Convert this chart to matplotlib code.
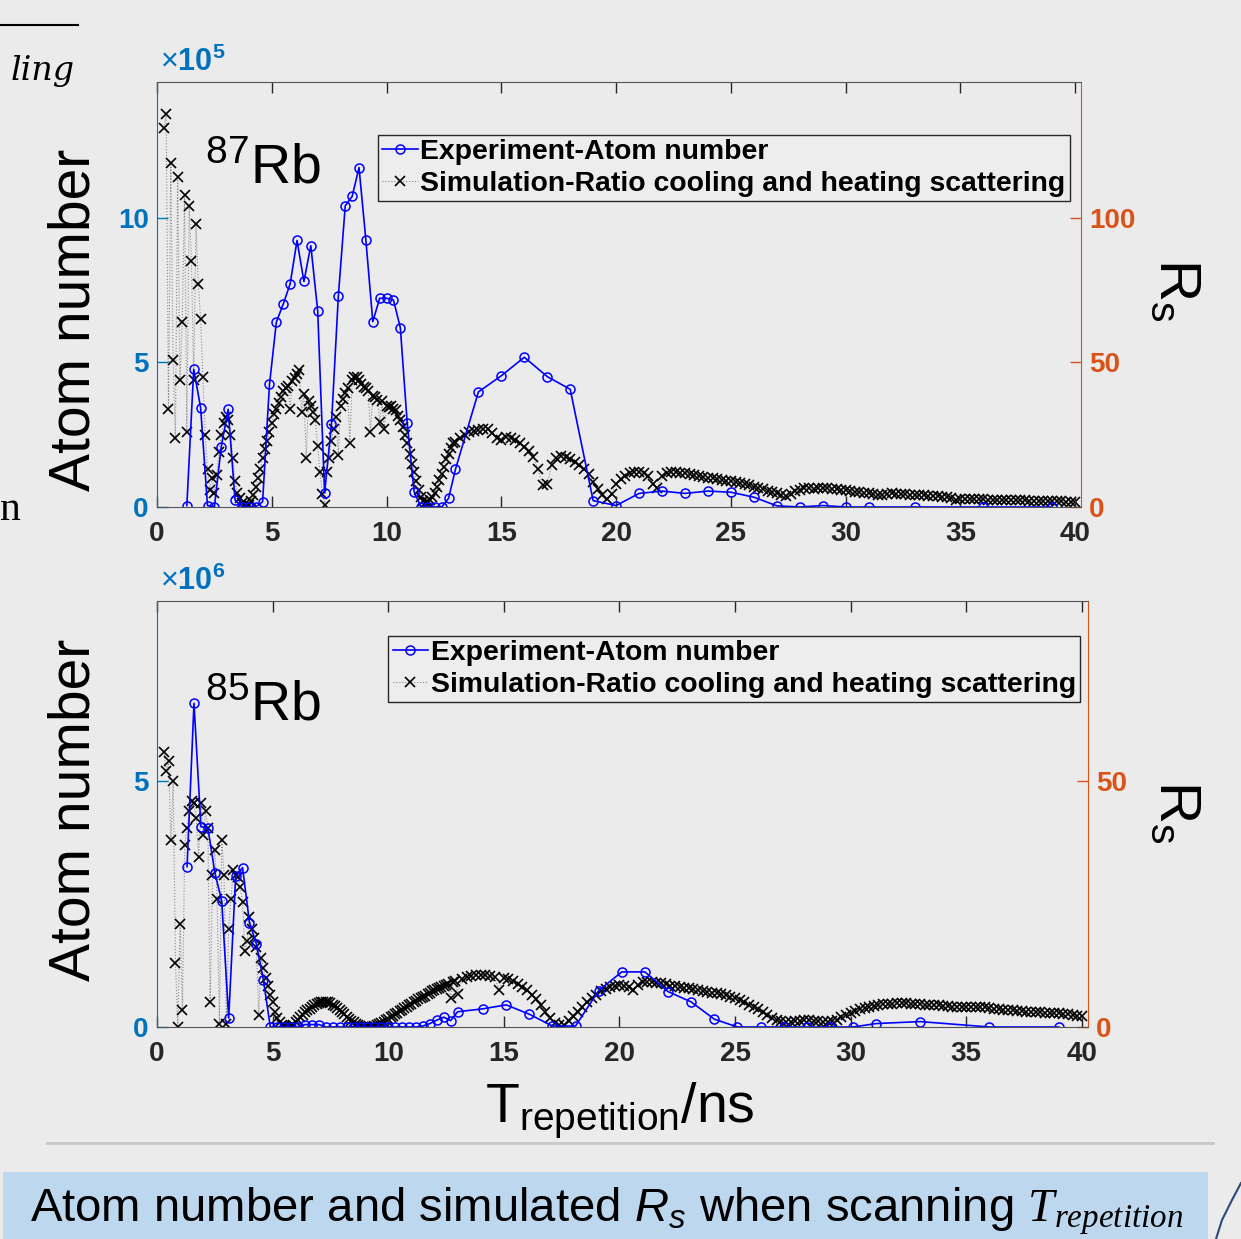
import numpy as np
import matplotlib
matplotlib.use("Agg")
import matplotlib.pyplot as plt
from matplotlib.patches import Rectangle
from matplotlib.lines import Line2D

plt.rcParams['font.family'] = ['Liberation Sans', 'DejaVu Sans']
plt.rcParams['mathtext.fontset'] = 'custom'
plt.rcParams['mathtext.rm'] = 'Liberation Sans'
plt.rcParams['mathtext.it'] = 'Liberation Sans:italic'
plt.rcParams['mathtext.bf'] = 'Liberation Sans:bold'
plt.rcParams['mathtext.cal'] = 'Liberation Serif:italic'

# ---- 87Rb (top panel) ----
# experiment: atom number in units of 1e5
exp87_t = [1.3, 1.6, 1.9, 2.2, 2.5, 2.8, 3.1, 3.4, 3.7, 4.0,
           4.3, 4.6, 4.9, 5.2, 5.5, 5.8, 6.1, 6.4, 6.7, 7.0,
           7.3, 7.6, 7.9, 8.2, 8.5, 8.8, 9.1, 9.4, 9.7, 10.0,
           10.3, 10.6, 10.9, 11.2, 11.5, 11.8, 12.1, 12.4, 12.7, 13.0,
           14, 15, 16, 17, 18, 19, 20, 21, 22, 23,
           24, 25, 26, 27, 28, 29, 30, 31, 33, 36, 39]
exp87_n = [0.05, 4.76, 3.44, 0.05, 0.0, 2.09, 3.38, 0.24, 0.01, 0.0,
           0.0, 0.18, 4.24, 6.4, 7.02, 7.72, 9.22, 7.8, 9.04, 6.79,
           0.49, 2.86, 7.3, 10.42, 10.74, 11.74, 9.22, 6.41, 7.22, 7.22,
           7.16, 6.2, 2.9, 0.53, 0.0, 0.0, 0.0, 0.0, 0.3, 1.3,
           3.98, 4.54, 5.18, 4.51, 4.07, 0.22, 0.05, 0.47, 0.55, 0.47,
           0.55, 0.51, 0.34, 0.04, 0.0, 0.05, 0.0, 0.0, 0.0, 0.0, 0.0]
# simulation Rs, 0.3-12.9 ns every 0.1 ns
sim87_a = [131, 136, 34, 119, 51, 24, 114, 44, 64, 108,
           26, 104, 85, 44, 98, 77, 65, 45, 25, 13,
           6, 10, 5, 11, 19, 25, 29, 31, 30, 25,
           17, 9, 5, 3, 1.5, 0.7, 0.4, 0.8, 2, 4,
           7, 10, 13, 17, 20, 23, 26, 29, 32, 34,
           36, 38, 40, 41, 42, 34, 43.5, 44.5, 46, 47.5,
           33, 39, 17, 36.5, 35, 33, 30, 21, 12, 4.5,
           0.8, 12, 17, 23, 27, 31, 18, 35, 37.5, 39.5,
           41, 22, 44, 45, 45, 44, 42.5, 41.5, 41, 40,
           26, 38.5, 38, 37, 29.5, 36.5, 27, 35, 34.5, 35,
           34, 33.5, 31.5, 30, 27.5, 25, 22, 18.5, 15, 12,
           9, 6, 3.5, 2, 1.8, 1.8, 2.5, 3.5, 5, 7,
           9.5, 11.5, 14, 16.5, 18.5, 20.5, 22]
# simulation Rs, 13-40 ns every 0.2 ns
sim87_b = [22.5, 24, 25, 25.8, 26.4, 26.7, 26.9, 27, 25.5, 24,
           23.3, 24.3, 24, 23.2, 22, 20.6, 19.3, 17.3, 13, 7.5,
           8, 14.5, 16.8, 17.6, 17.2, 16.5, 15.6, 14.4, 13, 11.3,
           8.7, 6.3, 4, 2.6, 4.4, 8, 9.8, 10.8, 11.6, 12.2,
           12.1, 11.7, 10.6, 8, 6.5, 10.6, 11.6, 12, 12, 11.8,
           11.6, 11.3, 11.1, 10.8, 10.5, 10.2, 9.9, 9.7, 9.4, 9.1,
           8.9, 8.7, 8.4, 8.1, 7.5, 7, 6.5, 6.1, 5.7, 5.3,
           4.8, 4.2, 3.8, 4.6, 5.4, 5.9, 6.4, 6.6, 6.3, 6.4,
           6.6, 6.5, 6.2, 6.1, 5.9, 5.8, 5.6, 5.3, 5.3, 5.0,
           4.7, 4.5, 4.2, 4.3, 4.6, 4.7, 4.6, 4.5, 4.4, 4.3,
           4.3, 4.2, 4.0, 3.9, 3.8, 3.7, 3.6, 3.5, 3.0, 2.5,
           2.6, 2.7, 2.7, 2.6, 2.6, 2.6, 2.5, 2.5, 2.5, 2.4,
           2.4, 2.4, 2.3, 2.3, 2.3, 2.2, 2.2, 2.2, 2.2, 2.1,
           2.1, 2.0, 2.0, 1.9, 1.9, 1.8]

# ---- 85Rb (bottom panel) ----
# experiment: atom number in units of 1e6
exp85_t = [1.3, 1.6, 1.9, 2.2, 2.5, 2.8, 3.1, 3.4, 3.7, 4.0,
           4.3, 4.6, 4.9, 5.2, 5.5, 5.8, 6.1, 6.4, 6.7, 7.0,
           7.3, 7.6, 7.9, 8.2, 8.5, 8.8, 9.1, 9.4, 9.7, 10.0,
           10.3, 10.6, 10.9, 11.2, 11.5, 11.8, 12.1, 12.4, 12.7, 13.0,
           14.1, 15.1, 16.1, 17.1, 18.1, 19.1, 20.1, 21.1, 22.1, 23.1,
           24.1, 25.1, 26.1, 27.1, 28.1, 29.1, 30.1, 31.1, 33, 36, 39]
exp85_n = [3.26, 6.58, 4.07, 4.05, 3.14, 2.56, 0.18, 3.06, 3.24, 2.12,
           1.69, 0.96, 0.0, 0.0, 0.0, 0.0, 0.0, 0.05, 0.05, 0.05,
           0.0, 0.0, 0.0, 0.0, 0.0, 0.0, 0.0, 0.0, 0.0, 0.0,
           0.0, 0.0, 0.0, 0.0, 0.02, 0.07, 0.14, 0.2, 0.13, 0.31,
           0.37, 0.45, 0.26, 0.02, 0.02, 0.74, 1.12, 1.12, 0.72, 0.51,
           0.16, 0.0, 0.0, 0.0, 0.0, 0.0, 0.0, 0.07, 0.11, 0.0, 0.0]
sim85_a = [56, 52, 54, 38, 50, 13, 0, 21, 3.5, 37,
           40.5, 44, 46, 45.5, 42.5, 34.5, 45.5, 39, 44, 40.5,
           5, 31, 36, 26, 0.7, 38, 31, 0.7, 20, 26,
           32, 31, 30.5, 28.5, 25.5, 15.5, 17.5, 22.4, 20, 18,
           16.3, 2.4, 14, 12, 10, 8.3, 6.5, 5, 3, 1.8,
           1, 0.5, 0.2, 0, 0, 0.2, 0.5, 1, 1.5, 2,
           2.5, 3, 3.4, 3.7, 4.1, 4.4, 4.6, 4.8, 5, 5.1,
           5.1, 5, 4.8, 4.5, 4.2, 3.8, 3.4, 3, 2.6, 2.1,
           1.7, 1.3, 1, 0.7, 0.4, 0.2, 0.1, 0, 0, 0,
           0.1, 0.2, 0.4, 0.6, 0.8, 1.1, 1.4, 1.7, 2, 2.3,
           2.6, 2.9, 3.2, 3.5, 3.8, 4.1, 4.4, 4.7, 5, 5.3,
           5.6, 5.9, 6.1, 6.4, 6.7, 7, 7.3, 7.5, 7.8, 8,
           8.2, 8.4, 8.6, 8.8, 5.8, 9.1, 9.3]
sim85_b = [6.8, 9.8, 10.1, 10.4, 10.5, 10.6, 10.5, 10.3, 10.1, 7.5,
           9.9, 9.8, 9.3, 8.8, 8.2, 7.5, 6.6, 5.6, 4.4, 3.1,
           1.9, 0.9, 0.5, 0.5, 1.2, 2.2, 3.1, 4.0, 5.0, 5.8,
           6.6, 7.3, 7.8, 8.2, 8.4, 8.5, 8.4, 8.2, 7.6, 8.6,
           9.2, 9.2, 9.2, 9.0, 8.9, 8.7, 8.4, 8.3, 8.2, 8.0,
           7.9, 7.7, 7.5, 7.4, 7.2, 7.0, 6.9, 6.7, 6.5, 6.2,
           5.8, 5.5, 5.0, 4.5, 4.0, 3.6, 3.1, 2.5, 1.8, 1.4,
           1.2, 1.1, 1.1, 1.2, 1.3, 1.4, 1.4, 1.3, 1.2, 1.1,
           1.1, 1.2, 1.5, 2.0, 2.5, 2.9, 3.3, 3.6, 3.9, 4.1,
           4.3, 4.5, 4.6, 4.7, 4.7, 4.8, 4.8, 4.8, 4.7, 4.7,
           4.6, 4.5, 4.5, 4.4, 4.4, 4.3, 4.2, 4.1, 4.1, 4.1,
           4.1, 4.1, 4.1, 4.0, 4.0, 3.8, 3.7, 3.6, 3.5, 3.5,
           3.4, 3.3, 3.2, 3.1, 3.1, 3.0, 3.0, 2.9, 2.9, 2.8,
           2.8, 2.7, 2.6, 2.4, 2.3, 2.2]

x_ticks = [0, 5, 10, 15, 20, 25, 30, 35, 40]
blue_ax = '#0072BD'
orange_ax = '#D95319'
dark = '#262626'

W, H = 1241, 1239
fig = plt.figure(figsize=(W / 100, H / 100), dpi=100, facecolor='#ebebeb')


def panel(rect, exp_t, exp_n, sim_a, sim_b, ytop, yticks, rticks, expo, iso, iso_y, leg_anchor):
    ax = fig.add_axes(rect)
    ax2 = ax.twinx()
    sim_t = np.concatenate([0.3 + 0.1 * np.arange(len(sim_a)),
                            13.0 + 0.2 * np.arange(len(sim_b))])
    sim_v = np.concatenate([sim_a, sim_b])
    ax2.plot(sim_t, sim_v, ls=':', lw=0.8, color='#8a8a8a', marker='x', ms=6.5,
             mec='black', mew=1.2, label='Simulation-Ratio cooling and heating scattering')
    ax.plot(exp_t, exp_n, '-o', color='blue', lw=1.2, ms=6.5, mfc='none', mew=1.1,
            label='Experiment-Atom number')
    ax.set_zorder(ax2.get_zorder() + 1)
    ax.patch.set_visible(False)

    ax.set_xlim(0, 40.25)
    ax.set_ylim(0, ytop)
    ax2.set_ylim(0, ytop * 10)
    ax.set_xticks(x_ticks)
    ax.set_yticks(yticks)
    ax2.set_yticks(rticks)

    ax.tick_params(axis='x', direction='in', top=True, length=8, width=1,
                   color=dark, labelcolor=dark, labelsize=20, pad=10)
    ax.tick_params(axis='y', direction='in', length=8, width=1,
                   colors=blue_ax, labelsize=20, pad=6)
    ax2.tick_params(axis='y', direction='in', length=8, width=1,
                    colors=orange_ax, labelsize=20, pad=6)
    for lbl in ax.get_xticklabels() + ax.get_yticklabels() + ax2.get_yticklabels():
        lbl.set_fontweight('bold')

    ax.spines['left'].set_color(blue_ax)
    ax.spines['right'].set_visible(False)
    for s in ('top', 'bottom'):
        ax.spines[s].set_color('#555555')
    ax2.spines['right'].set_color(orange_ax)
    for s in ('left', 'top', 'bottom'):
        ax2.spines[s].set_visible(False)

    ax.text(0.003, 1.01, r'$\times\mathbf{10^{' + expo + '}}$', transform=ax.transAxes,
            color=blue_ax, fontsize=22, ha='left', va='bottom')
    ax.text(0.052, iso_y, r'$\mathregular{^{' + iso + '}Rb}$', transform=ax.transAxes,
            fontsize=40, ha='left', va='baseline')

    h1, l1 = ax.get_legend_handles_labels()
    h2, l2 = ax2.get_legend_handles_labels()
    ax.legend(h1 + h2, l1 + l2, loc='upper right', bbox_to_anchor=leg_anchor,
              borderaxespad=0, fancybox=False, edgecolor=dark, facecolor='#ededed',
              framealpha=1, prop={'weight': 'bold', 'size': 20.4}, handlelength=1.25,
              handletextpad=0.1, labelspacing=0.2, borderpad=0.15)
    return ax, ax2


panel([157 / W, 1 - 507 / H, 924 / W, 425 / H], exp87_t, exp87_n, sim87_a, sim87_b,
      14.7, [0, 5, 10], [0, 50, 100], '5', '87', 0.762, (0.988, 0.875))
panel([157 / W, 1 - 1027 / H, 930.7 / W, 426 / H], exp85_t, exp85_n, sim85_a, sim85_b,
      8.66, [0, 5], [0, 50], '6', '85', 0.72, (0.992, 0.918))

# axis titles
for yc in (320, 810):
    fig.text(75 / W, 1 - yc / H, 'Atom number', rotation=90, fontsize=41,
             ha='center', va='center')
for yc in (290, 812):
    fig.text(1175 / W, 1 - yc / H, r'$\mathregular{R_s}$', rotation=-90, fontsize=42,
             ha='center', va='center')
fig.text(620 / W, 1 - 1122 / H, r'$\mathregular{T_{repetition}/ns}$', fontsize=40,
         ha='center', va='baseline')

# slide decorations around the figure
fig.add_artist(Line2D([47 / W, 1213 / W], [1 - 1143 / H] * 2, color='#c8c8c8', lw=2))
fig.add_artist(Line2D([0, 78 / W], [1 - 25 / H] * 2, color='black', lw=1.5))
fig.text(75 / W, 1 - 80 / H, 'ling', family='DejaVu Serif', style='italic',
         fontsize=24, ha='right', va='baseline')
fig.text(21 / W, 1 - 520 / H, 'n', family='Liberation Serif', fontsize=30,
         ha='right', va='baseline')
fig.add_artist(Rectangle((3 / W, 0), 1205 / W, 67 / H, transform=fig.transFigure,
                         facecolor='#bdd7ee', edgecolor='none'))
fig.text(30 / W, 1 - 1222 / H,
         r'Atom number and simulated $\mathit{R_s}$ when scanning $\mathcal{T_{repetition}}$',
         fontsize=34, ha='left', va='baseline')
fig.add_artist(Line2D([1.0, 1232 / W, 1222 / W, 1216 / W],
                      [1 - 1183 / H, 1 - 1200 / H, 1 - 1220 / H, 0],
                      color='#2e4a7a', lw=1.5))

fig.savefig('out.png', dpi=100, facecolor=fig.get_facecolor())
